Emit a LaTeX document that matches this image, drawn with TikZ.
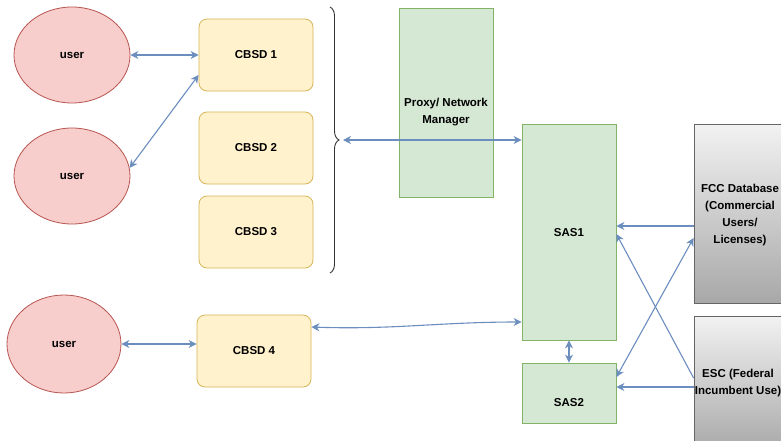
\documentclass[tikz,border=0pt]{standalone}
\usepackage{fontspec}
\setmainfont{Liberation Sans}
\usetikzlibrary{arrows.meta,decorations.pathreplacing,shapes.geometric}
\definecolor{userfill}{HTML}{F8CECC}
\definecolor{userline}{HTML}{B85450}
\definecolor{cbsdfill}{HTML}{FFF2CC}
\definecolor{cbsdline}{HTML}{D6B656}
\definecolor{greenfill}{HTML}{D5E8D4}
\definecolor{greenline}{HTML}{82B366}
\definecolor{graytop}{HTML}{F2F2F2}
\definecolor{graybot}{HTML}{A8A8A8}
\definecolor{grayline}{HTML}{666666}
\definecolor{arrowc}{HTML}{6C8EBF}
\begin{document}
\begin{tikzpicture}[x=1pt,y=-1pt,
  font=\bfseries\fontsize{11.5}{17}\selectfont,
  userbox/.style={ellipse,draw=userline,fill=userfill,line width=0.8pt,minimum width=116pt,minimum height=96pt,inner sep=0pt},
  cbsdbox/.style={rectangle,rounded corners=8pt,draw=cbsdline,fill=cbsdfill,line width=0.8pt,minimum width=114pt,minimum height=72pt,inner sep=0pt},
  greenbox/.style={rectangle,draw=greenline,fill=greenfill,line width=0.8pt,inner sep=0pt},
  graybox/.style={rectangle,draw=grayline,top color=graytop,bottom color=graybot,line width=0.8pt,inner sep=0pt},
  tipx/.style={Stealth[length=8pt,width=8pt,inset=2.5pt]},
  conn/.style={draw=arrowc,line width=1.1pt,{Stealth[length=8pt,width=8pt,inset=2.5pt]}-{Stealth[length=8pt,width=8pt,inset=2.5pt]}},
  conn1/.style={draw=arrowc,line width=1.1pt,-{Stealth[length=8pt,width=8pt,inset=2.5pt]}}
]
\useasboundingbox (0,0) rectangle (781,440);
\fill[white] (0,0) rectangle (781,440);

% users
\node[userbox] (u1) at (72,55) {user};
\node[userbox] (u2) at (72,176) {user};
\node[userbox,minimum width=114pt,minimum height=98pt] (u3) at (64,344) {user};

% CBSDs
\node[cbsdbox] (c1) at (256,55) {CBSD 1};
\node[cbsdbox] (c2) at (256,148) {CBSD 2};
\node[cbsdbox] (c3) at (256,232) {CBSD 3};
\node[cbsdbox] (c4) at (254,351) {CBSD 4};

% brace
\draw[draw=black!80,line width=0.9pt,decorate,decoration={brace,amplitude=9pt,aspect=0.5}] (330,7) -- (330,273);
\coordinate (bt) at (343,140);

% proxy
\node[greenbox,minimum width=94pt,minimum height=189pt] (px) at (446,102.5) {};
\node[align=center] (pxl) at (446,112) {Proxy/ Network\\Manager};

% SAS
\node[greenbox,minimum width=94pt,minimum height=216pt] (s1) at (569,232) {};
\node (s1l) at (569,233) {SAS1};
\node[greenbox,minimum width=94pt,minimum height=60pt] (s2) at (569,393) {};
\node (s2l) at (569,403) {SAS2};

% gray boxes
\node[graybox,minimum width=96pt,minimum height=179pt] (fcc) at (742,213.5) {};
\node[align=center] (fccl) at (740,215) {FCC Database\\(Commercial\\Users/\\Licenses)};
\node[graybox,minimum width=96pt,minimum height=136pt] (esc) at (742,384) {};
\node[align=center] (escl) at (738,383) {ESC (Federal\\Incumbent Use)};

% connectors
\draw[conn] (u1.east) -- (c1.west);
\draw[conn] (u2.8) -- (c1.west |- 0,75);
\draw[conn] (u3.east) -- (c4.west |- 0,344);
\draw[conn] (bt) -- (s1.west |- 0,140);
\draw[conn] (c4.east |- 0,327) to[out=-2,in=180] (s1.west |- 0,322);
\draw[conn] (s1.south) -- (s2.north);
\draw[conn1] (fcc.west |- 0,226) -- (s1.east |- 0,226);
\draw[conn1] (esc.west |- 0,387) -- (s2.east |- 0,387);
\draw[conn1] (esc.west |- 0,378) -- (s1.east |- 0,234);
\draw[conn] (s2.east |- 0,377) -- (fcc.west |- 0,238);
\end{tikzpicture}
\end{document}
